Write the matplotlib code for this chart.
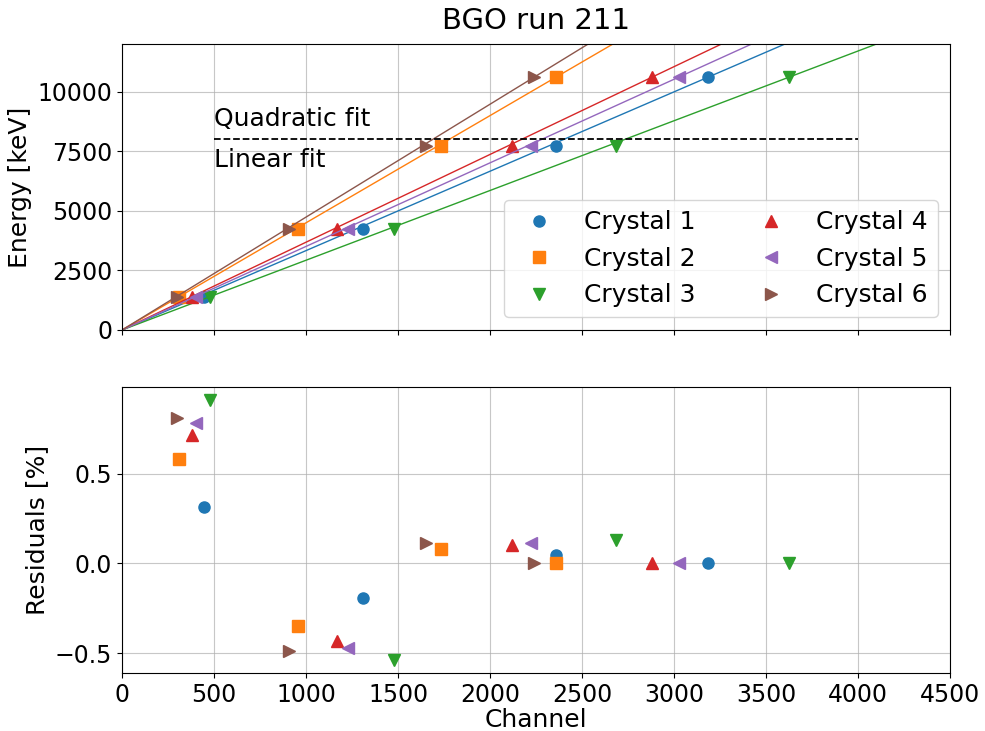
import numpy as np
import matplotlib
matplotlib.use("Agg")
import matplotlib.pyplot as plt
from matplotlib.ticker import MultipleLocator

# energies of the calibration lines (keV)
energies = np.array([1370, 4245, 7735, 10615])

# peak positions (channel) for each crystal
channels = {
    "Crystal 1": [446, 1312, 2360, 3187],
    "Crystal 2": [312, 957, 1732, 2360],
    "Crystal 3": [478, 1478, 2683, 3627],
    "Crystal 4": [380, 1170, 2121, 2882],
    "Crystal 5": [400, 1230, 2223, 3027],
    "Crystal 6": [297, 909, 1650, 2241],
}

# fit residuals in percent
residuals = {
    "Crystal 1": [0.315, -0.192, 0.045, 0.0],
    "Crystal 2": [0.58, -0.35, 0.082, 0.0],
    "Crystal 3": [0.91, -0.538, 0.13, 0.0],
    "Crystal 4": [0.715, -0.43, 0.10, 0.0],
    "Crystal 5": [0.784, -0.471, 0.113, 0.0],
    "Crystal 6": [0.812, -0.486, 0.116, 0.0],
}

markers = ['o', 's', 'v', '^', '<', '>']
colors = plt.rcParams['axes.prop_cycle'].by_key()['color']

plt.rcParams['font.size'] = 18
plt.rcParams['xtick.labelsize'] = 17
plt.rcParams['ytick.labelsize'] = 17

fig = plt.figure(figsize=(9.85, 7.31), dpi=100)
ax_top = fig.add_axes([0.1239, 0.5486, 0.8406, 0.3912])
ax_res = fig.add_axes([0.1239, 0.0793, 0.8406, 0.3912], sharex=ax_top)

xfit = np.array([0, 4500])
for i, name in enumerate(channels):
    ch = np.array(channels[name])
    slope = energies[-1] / ch[-1]
    ax_top.plot(ch, energies, linestyle='none', marker=markers[i],
                color=colors[i], ms=8, label=name)
    ax_top.plot(xfit, slope * xfit, color=colors[i], lw=1)
    ax_res.plot(ch, residuals[name], linestyle='none', marker=markers[i],
                color=colors[i], ms=8)

ax_top.plot([500, 4000], [8000, 8000], 'k--', lw=1.3)
ax_top.text(500, 8350, "Quadratic fit", va='bottom')
ax_top.text(500, 7650, "Linear fit", va='top')

ax_top.set_xlim(0, 4500)
ax_top.set_ylim(0, 12000)
ax_top.yaxis.set_major_locator(MultipleLocator(2500))
ax_top.set_ylabel("Energy [keV]")
ax_top.set_title("BGO run 211", fontsize=21, pad=11)
ax_top.grid(True, alpha=0.7)
ax_top.tick_params(labelbottom=False)
ax_top.legend(ncol=2, loc='lower right')

ax_res.set_ylabel("Residuals [%]")
ax_res.set_xlabel("Channel", labelpad=1)
ax_res.grid(True, alpha=0.7)

fig.savefig("out.png", dpi=100)
